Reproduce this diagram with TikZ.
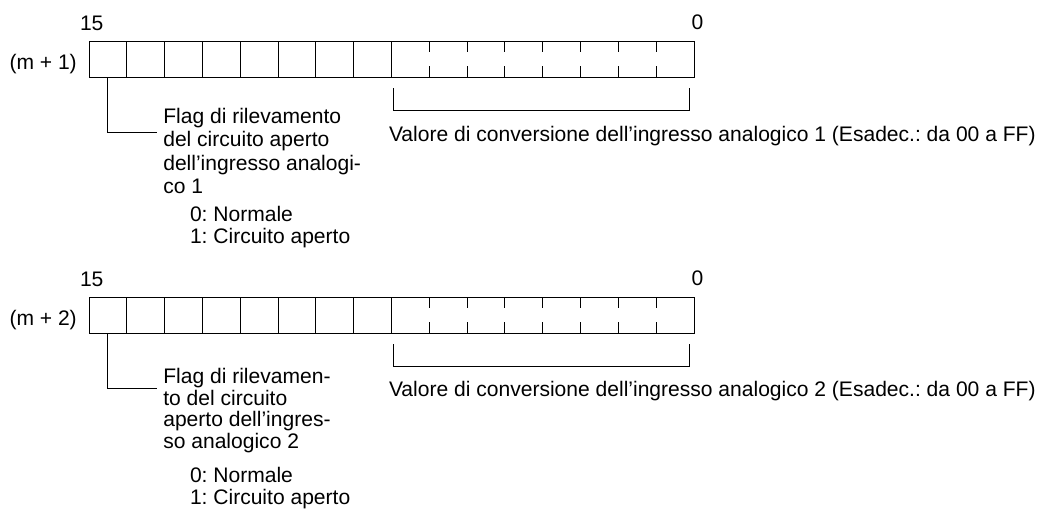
\documentclass[tikz,border=0pt]{standalone}
\usepackage{fontspec}
\setmainfont{Liberation Sans}
\frenchspacing
\begin{document}
\begin{tikzpicture}[x=1pt,y=-1pt,line width=1pt,line cap=rect,
  txt/.style={anchor=base west,inner sep=0pt,outer sep=0pt,font=\fontsize{21.05}{24}\selectfont},
  cell/.style={draw,minimum width=37.8125pt,minimum height=36pt,inner sep=0pt,outer sep=0pt,anchor=north west},
  lowbyte/.style={cell,minimum width=302.5pt}]
\useasboundingbox (0,0) rectangle (1042,515);
\foreach \b/\dy in {1/0,2/256}{
  \foreach \i in {0,...,7}
    \node[cell] (c\b-\i) at ({89+\i*37.8125},{41.7+\dy}) {};
  \node[lowbyte] (lo\b) at (391.5,{41.7+\dy}) {};
  \foreach \i in {1,...,7}{
    \draw ({391.5+\i*37.8125},{41.7+\dy}) -- ++(0,10);
    \draw ({391.5+\i*37.8125},{77.7+\dy}) -- ++(0,-11);
  }
  \coordinate (bl\b) at (393.3,{88+\dy});
  \coordinate (br\b) at (689.3,{88+\dy});
  \draw (bl\b) -- ++(0,22) -| (br\b);
}
% bit numbers and register names
\node[txt] (n15a) at (80,30.3) {15};
\node[txt] (n0a) at (691.7,29.5) {0};
\node[txt] (m1) at (9.5,69) {(m + 1)};
\node[txt] (n15b) at (80,286.3) {15};
\node[txt] (n0b) at (691.7,285.5) {0};
\node[txt] (m2) at (9.5,325) {(m + 2)};
% block 1 texts
\node[txt] (f1a) at (163.3,123.5) {Flag di rilevamento};
\node[txt] (f1b) at (163.3,146.8) {del circuito aperto};
\node[txt] (f1c) at (163.3,170.1) {dell’ingresso analogi-};
\node[txt] (f1d) at (163.3,193.4) {co 1};
\node[txt] (f1e) at (190,221) {0: Normale};
\node[txt] (f1f) at (190,243) {1: Circuito aperto};
\node[txt] (v1) at (389,141.7) {Valore di conversione dell’ingresso analogico 1 (Esadec.: da 00 a FF)};
\coordinate (k1) at (156.7,132.7);
\draw (c1-0.south) |- (k1);
% block 2 texts
\node[txt] (f2a) at (163.3,383.5) {Flag di rilevamen-};
\node[txt] (f2b) at (163.3,405) {to del circuito};
\node[txt] (f2c) at (163.3,426.5) {aperto dell’ingres-};
\node[txt] (f2d) at (163.3,448) {so analogico 2};
\node[txt] (f2e) at (190,482) {0: Normale};
\node[txt] (f2f) at (190,504) {1: Circuito aperto};
\node[txt] (v2) at (389,396) {Valore di conversione dell’ingresso analogico 2 (Esadec.: da 00 a FF)};
\coordinate (k2) at (156.7,388.3);
\draw (c2-0.south) |- (k2);
\end{tikzpicture}
\end{document}
